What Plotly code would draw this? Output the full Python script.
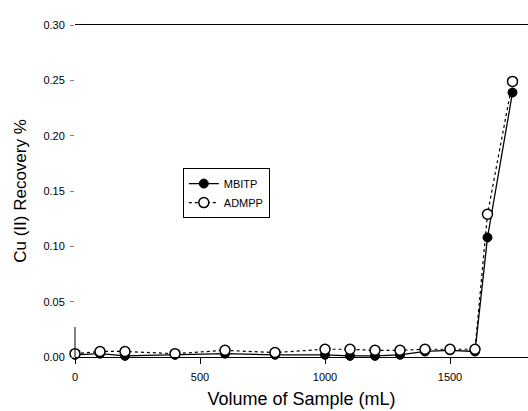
import plotly.graph_objects as go

volume = [0, 100, 200, 400, 600, 800, 1000, 1100, 1200, 1300, 1400, 1500, 1600, 1650, 1750]
mbitp = [0.002, 0.003, 0.001, 0.002, 0.003, 0.002, 0.002, 0.001, 0.001, 0.002, 0.005, 0.006, 0.005, 0.108, 0.239]
admpp = [0.003, 0.005, 0.005, 0.003, 0.006, 0.004, 0.007, 0.007, 0.006, 0.006, 0.007, 0.007, 0.007, 0.129, 0.249]

y_ticks = [0.00, 0.05, 0.10, 0.15, 0.20, 0.25, 0.30]
y_labels = ["0.00", "0.05", "0.10", "0.15", "0.20", "0.25", "0.30"]
x_ticks = [0, 500, 1000, 1500]
x_labels = ["0", "500", "1000", "1500"]

fig = go.Figure()
fig.add_trace(go.Scatter(
    x=volume, y=mbitp, name="MBITP", mode="lines+markers",
    line=dict(color="black", width=1.3),
    marker=dict(symbol="circle", size=9, color="black", line=dict(color="black", width=1)),
    cliponaxis=False,
))
fig.add_trace(go.Scatter(
    x=volume, y=admpp, name="ADMPP", mode="lines+markers",
    line=dict(color="black", width=1.2, dash="dot"),
    marker=dict(symbol="circle", size=10, color="white", line=dict(color="black", width=1.5)),
    cliponaxis=False,
))

fig.update_layout(
    width=528, height=411,
    margin=dict(l=75, r=0, t=25, b=54),
    paper_bgcolor="white", plot_bgcolor="white",
    font=dict(family="Liberation Sans, Arial, sans-serif", color="black", size=11),
    showlegend=True,
    legend=dict(
        x=0.238, y=0.569, xanchor="left", yanchor="top",
        bgcolor="white", bordercolor="black", borderwidth=1,
        font=dict(size=11), tracegroupgap=0, itemwidth=30,
    ),
    xaxis=dict(
        range=[0, 1812], tickvals=x_ticks, ticktext=x_labels,
        showgrid=False, zeroline=False,
        showline=True, linecolor="black", linewidth=1.3, mirror=True,
        ticks="outside", ticklen=6, tickcolor="black", tickwidth=1,
        ticklabelstandoff=4,
        title=dict(text="Volume of Sample (mL)", font=dict(size=18), standoff=10),
    ),
    yaxis=dict(
        range=[0, 0.30], tickvals=y_ticks, ticktext=y_labels,
        showgrid=False, zeroline=False, showline=False,
        ticks="outside", ticklen=4, tickcolor="#888", tickwidth=1,
        ticklabelstandoff=3,
        title=dict(text="Cu (II) Recovery %", font=dict(size=17), standoff=12),
    ),
    shapes=[dict(type="line", xref="paper", yref="paper", x0=0, x1=0, y0=0, y1=0.09,
                 line=dict(color="black", width=1))],
)

fig.write_html("out.html")
